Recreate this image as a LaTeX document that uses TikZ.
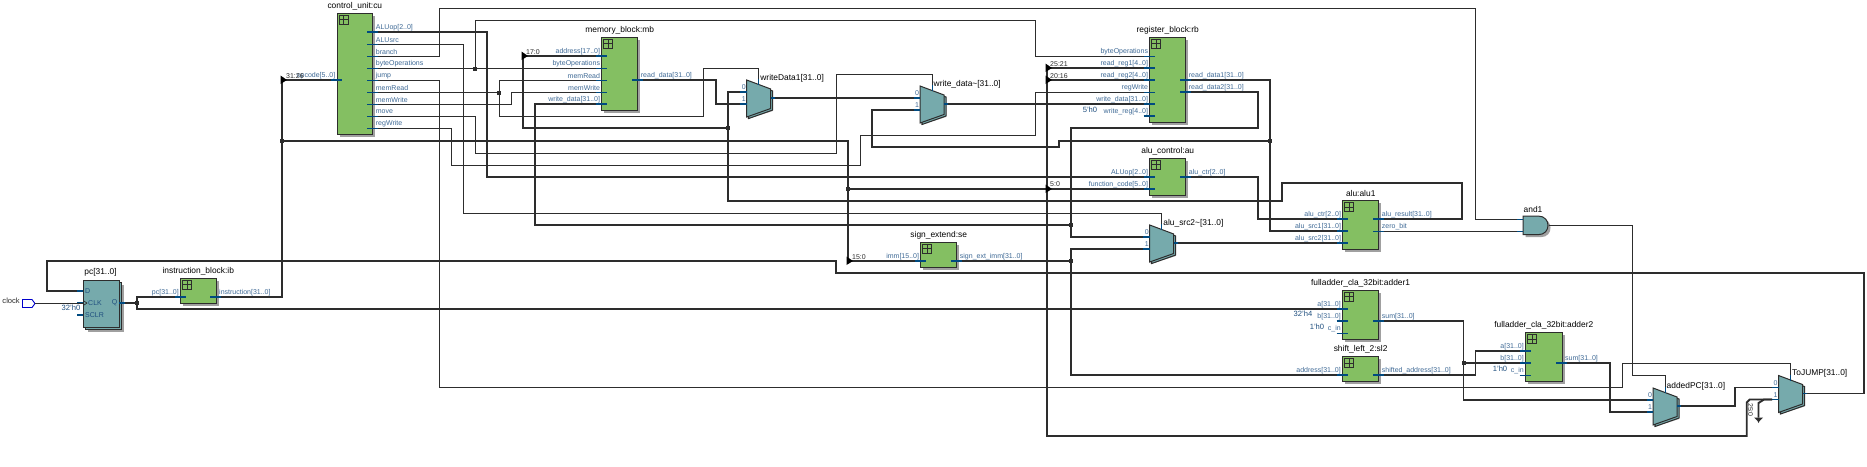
\documentclass[tikz,border=0pt]{standalone}
\usepackage{fontspec}
\setmainfont{Liberation Sans}
\definecolor{wirec}{HTML}{2D2D2D}
\definecolor{pinc}{HTML}{004A80}
\definecolor{blockg}{HTML}{84BF62}
\definecolor{muxt}{HTML}{76AAAC}
\definecolor{shad}{HTML}{A0A0A0}
\definecolor{labc}{HTML}{3F6A96}
\definecolor{constc}{HTML}{1F4F7F}
\tikzset{
  thinwire/.style={draw=wirec,line width=0.9pt,line join=miter},
  buswire/.style={draw=wirec,line width=1.9pt,line join=miter},
  thinpin/.style={draw=pinc,line width=0.9pt},
  buspin/.style={draw=pinc,line width=1.9pt},
  pinlab/.style={inner sep=0pt,text=labc,font=\fontsize{7}{8}\selectfont},
  instlab/.style={inner sep=0pt,text=black,font=\fontsize{8.4}{10}\selectfont},
  riplab/.style={inner sep=0pt,text=wirec,anchor=west,font=\fontsize{7}{8}\selectfont},
  constlab/.style={inner sep=0pt,text=constc,font=\fontsize{7.6}{9}\selectfont},
  blockbox/.style={draw=wirec,line width=1pt,fill=blockg,inner sep=0pt,outer sep=0pt,anchor=north west},
  tealbox/.style={draw=wirec,line width=1pt,fill=muxt,inner sep=0pt,outer sep=0pt,anchor=north west},
  shadowfill/.style={fill=shad,draw=none},
  iconline/.style={draw=wirec,line width=1pt},
  jdot/.style={fill=wirec,draw=none},
}
% block: name, x1, y1, x2, y2, label
\newcommand\blk[6]{%
  \fill[shadowfill] ({#2+2.5},{#3+2.5}) rectangle ({#4+2.5},{#5+2.5});
  \pgfmathsetmacro\bw{#4-#2}\pgfmathsetmacro\bh{#5-#3}
  \node[blockbox,minimum width=\bw pt,minimum height=\bh pt] (#1) at (#2,#3) {};
  \draw[iconline] ({#2+2},{#3+2}) rectangle ({#2+11},{#3+11});
  \draw[iconline] ({#2+6.5},{#3+2}) -- ({#2+6.5},{#3+11}) ({#2+2},{#3+6.5}) -- ({#2+11},{#3+6.5});
  \node[instlab] (#1lab) at ({(#2+#4)/2},{#3-7}) {#6};
}
% left pin: name, rect-left, y, text, style
\newcommand\lp[5]{%
  \coordinate (#1) at ({#2-6},#3);
  \draw[#5] (#1) -- ++(11,0);
  \node[pinlab,anchor=east] (#1t) at ({#2-1.5},{#3-4.5}) {#4};
}
% right pin: name, rect-right, y, text, style
\newcommand\rp[5]{%
  \coordinate (#1) at ({#2+5},#3);
  \draw[#5] (#1) -- ++(-11,0);
  \node[pinlab,anchor=west] (#1t) at ({#2+3},{#3-4.5}) {#4};
}
% mux: name, x, y, label
\newcommand\muxx[4]{%
  \fill[shadowfill] ({#2+1},{#3+5}) -- ({#2+26},{#3+12}) -- ({#2+26},{#3+31}) -- ({#2+1},{#3+39}) -- cycle;
  \filldraw[draw=wirec,fill=muxt,line width=1pt] ({#2+2},{#3+3}) -- ({#2+26},{#3+11}) -- ({#2+26},{#3+30}) -- ({#2+2},{#3+38.5}) -- cycle;
  \filldraw[draw=wirec,fill=muxt,line width=1pt] (#2,#3) -- ({#2+24},{#3+9}) -- ({#2+24},{#3+28.5}) -- (#2,{#3+37}) -- cycle;
  \coordinate (#1in0) at ({#2-6.5},{#3+12});
  \coordinate (#1in1) at ({#2-6.5},{#3+24});
  \coordinate (#1out) at ({#2+28},{#3+18});
  \coordinate (#1sel) at ({#2+12},{#3-1});
  \draw[buspin] (#1in0) -- ++(6.5,0);
  \draw[buspin] (#1in1) -- ++(6.5,0);
  \draw[buspin] (#1out) -- ++(-4,0);
  \draw[thinpin] (#1sel) -- ++(0,6);
  \node[pinlab,anchor=center] (#1t0) at ({#2-3},{#3+7.5}) {0};
  \node[pinlab,anchor=center] (#1t1) at ({#2-3},{#3+19.5}) {1};
  \node[instlab,anchor=west] (#1lab) at ({#2+13.5},{#3-2}) {#4};
}
\newcommand\jun[2]{\fill[jdot] ({#1-2},{#2-2}) rectangle ({#1+2},{#2+2});}
\newcommand\rip[2]{\fill[black] ({#1-1.5},{#2-4.5}) -- ({#1+5},{#2}) -- ({#1-1.5},{#2+4}) -- cycle;}
\begin{document}
\begin{tikzpicture}[x=1pt,y=-1pt]
\useasboundingbox (0,0) rectangle (1867,466);
\fill[white] (0,0) rectangle (1867,466);

% ---- clock
\node[anchor=east,inner sep=0pt,text=wirec,font=\fontsize{7.6}{9}\selectfont] (clklab) at (20,301) {clock};
\draw[draw=blue!80!black,line width=0.9pt] (22.5,299.5) -- (32,299.5) -- (35,303.5) -- (32,307.5) -- (22.5,307.5) -- cycle;
\coordinate (clkOut) at (35,303);

% ---- pc
\fill[shadowfill] (88,285) rectangle (124,332);
\filldraw[draw=wirec,fill=muxt,line width=1pt] (85.5,282.5) rectangle (121.5,329.5);
\node[tealbox,minimum width=36pt,minimum height=47pt] (pc) at (83,280) {};
\node[instlab] (pclab) at (100.5,272) {pc[31..0]};
\coordinate (pcD) at (77,291); \coordinate (pcCLK) at (84,303); \coordinate (pcS) at (77,315); \coordinate (pcQ) at (125,303);
\draw[buspin] (pcD) -- (83,291);
\draw[buspin] (77,303) -- (83,303);
\draw[buspin] (pcS) -- (83,315);
\draw[buspin] (119,303) -- (pcQ);
\draw[wirec,line width=0.7pt] (84,301) -- (87,303) -- (84,305);
\node[pinlab,anchor=west,text=constc] (pctD) at (85,291) {D};
\node[pinlab,anchor=west,text=constc] (pctC) at (88,303) {CLK};
\node[pinlab,anchor=west,text=constc] (pctS) at (85,315) {SCLR};
\node[pinlab,anchor=east,text=constc] (pctQ) at (117.5,303) {Q};
\node[constlab] (k0) at (71,308) {32'h0};

% ---- blocks
\blk{ib}{180.5}{278}{216}{303}{instruction\_block:ib}
\lp{ibPc}{180.5}{297}{pc[31..0]}{buspin}
\rp{ibOut}{216}{297}{instruction[31..0]}{buspin}

\blk{cu}{337}{13.3}{372.7}{134}{control\_unit:cu}
\lp{cuOp}{337}{80}{opcode[5..0]}{buspin}
\rp{cuALUop}{372.7}{32}{ALUop[2..0]}{buspin}
\rp{cuALUsrc}{372.7}{44.3}{ALUsrc}{thinpin}
\rp{cuBranch}{372.7}{56.3}{branch}{thinpin}
\rp{cuByte}{372.7}{68.5}{byteOperations}{thinpin}
\rp{cuJump}{372.7}{80.3}{jump}{thinpin}
\rp{cuMemR}{372.7}{92.5}{memRead}{thinpin}
\rp{cuMemW}{372.7}{104.5}{memWrite}{thinpin}
\rp{cuMove}{372.7}{116.5}{move}{thinpin}
\rp{cuReg}{372.7}{128.5}{regWrite}{thinpin}

\blk{mb}{601.7}{37.3}{637.7}{110}{memory\_block:mb}
\lp{mbAddr}{601.7}{56}{address[17..0]}{buspin}
\lp{mbByte}{601.7}{68.5}{byteOperations}{thinpin}
\lp{mbMemR}{601.7}{80.5}{memRead}{thinpin}
\lp{mbMemW}{601.7}{92.5}{memWrite}{thinpin}
\lp{mbWD}{601.7}{104}{write\_data[31..0]}{buspin}
\rp{mbOut}{637.7}{80}{read\_data[31..0]}{buspin}

\blk{rb}{1149.7}{37.3}{1185.7}{122.3}{register\_block:rb}
\lp{rbByte}{1149.7}{56.5}{byteOperations}{thinpin}
\lp{rbR1}{1149.7}{68}{read\_reg1[4..0]}{buspin}
\lp{rbR2}{1149.7}{80}{read\_reg2[4..0]}{buspin}
\lp{rbReg}{1149.7}{92.3}{regWrite}{thinpin}
\lp{rbWD}{1149.7}{104}{write\_data[31..0]}{buspin}
\lp{rbWR}{1149.7}{116}{write\_reg[4..0]}{buspin}
\rp{rbRD1}{1185.7}{80}{read\_data1[31..0]}{buspin}
\rp{rbRD2}{1185.7}{92}{read\_data2[31..0]}{buspin}

\blk{au}{1149.7}{158}{1185.7}{195}{alu\_control:au}
\lp{auOp}{1149.7}{177}{ALUop[2..0]}{buspin}
\lp{auFn}{1149.7}{189}{function\_code[5..0]}{buspin}
\rp{auOut}{1185.7}{177}{alu\_ctr[2..0]}{buspin}

\blk{se}{920.7}{242}{956.7}{267}{sign\_extend:se}
\lp{seImm}{920.7}{261}{imm[15..0]}{buspin}
\rp{seOut}{956.7}{261}{sign\_ext\_imm[31..0]}{buspin}

\blk{alu}{1342.7}{200.7}{1378.7}{249.3}{alu:alu1}
\lp{aluCtr}{1342.7}{219}{alu\_ctr[2..0]}{buspin}
\lp{aluS1}{1342.7}{231}{alu\_src1[31..0]}{buspin}
\lp{aluS2}{1342.7}{243}{alu\_src2[31..0]}{buspin}
\rp{aluRes}{1378.7}{219}{alu\_result[31..0]}{buspin}
\rp{aluZero}{1378.7}{231}{zero\_bit}{thinpin}

\blk{aone}{1342.5}{290}{1378.7}{339.3}{fulladder\_cla\_32bit:adder1}
\lp{aoneA}{1342.5}{309}{a[31..0]}{buspin}
\lp{aoneB}{1342.5}{321}{b[31..0]}{buspin}
\lp{aoneC}{1342.5}{333}{c\_in}{thinpin}
\rp{aoneS}{1378.7}{321}{sum[31..0]}{buspin}

\blk{sl}{1342.5}{356.7}{1378.7}{381.3}{shift\_left\_2:sl2}
\lp{slAddr}{1342.5}{375}{address[31..0]}{buspin}
\rp{slOut}{1378.7}{375}{shifted\_address[31..0]}{buspin}

\blk{atwo}{1525.5}{332.7}{1562}{381.3}{fulladder\_cla\_32bit:adder2}
\lp{atwoA}{1525.5}{350.7}{a[31..0]}{buspin}
\lp{atwoB}{1525.5}{362.7}{b[31..0]}{buspin}
\lp{atwoC}{1525.5}{375}{c\_in}{thinpin}
\rp{atwoS}{1562}{362.7}{sum[31..0]}{buspin}

% ---- muxes
\muxx{mone}{746.7}{80}{writeData1[31..0]}
\muxx{mtwo}{920}{86}{write\_data\textasciitilde[31..0]}
\muxx{mthr}{1149.7}{225}{alu\_src2\textasciitilde[31..0]}
\muxx{mfiv}{1653}{388}{addedPC[31..0]}
\muxx{mfou}{1778.5}{375.5}{ToJUMP[31..0]}

% ---- and gate
\fill[shadowfill] (1525.5,218.5) -- (1540.5,218.5) .. controls (1547.5,218.5) and (1550.5,223.5) .. (1550.5,227.8) .. controls (1550.5,232.5) and (1547.5,237.2) .. (1540.5,237.2) -- (1525.5,237.2) -- cycle;
\filldraw[draw=wirec,fill=muxt,line width=1pt] (1523,216) -- (1538,216) .. controls (1545,216) and (1548,221) .. (1548,225.3) .. controls (1548,230) and (1545,234.7) .. (1538,234.7) -- (1523,234.7) -- cycle;
\node[instlab] (andlab) at (1533,209) {and1};
\coordinate (andA) at (1517,219); \coordinate (andB) at (1517,231); \coordinate (andOut) at (1549,225.3);
\draw[thinpin] (andA) -- (1523,219);
\draw[thinpin] (andB) -- (1523,231);

% ---- constants
\node[constlab] (k1) at (1090,110) {5'h0};
\node[constlab] (k2) at (1303,314) {32'h4};
\node[constlab] (k3) at (1317,327) {1'h0};
\node[constlab] (k4) at (1500,369) {1'h0};

% ---- thin wires
\draw[thinwire] (clkOut) -- (pcCLK);
\draw[thinwire] (cuBranch) -- (439,56.3) -- (439,8.3) -- (1475,8.3) -- (1475,219) -- (andA);
\draw[thinwire] (cuJump) -- (439,80.3) -- (439,387) -- (1622.6,387) -- (1622.6,363.7) -- (1790.5,363.7) -- (mfousel);
\draw[thinwire] (cuALUsrc) -- (463,44.3) -- (463,213) -- (1161.7,213) -- (mthrsel);
\draw[thinwire] (cuByte) -- (mbByte);
\draw[thinwire] (475,68.5) -- (475,20) -- (1035.7,20) -- (1035.7,56.5) -- (rbByte);
\draw[thinwire] (cuMemR) -- (499,92.5) -- (499,80.5) -- (mbMemR);
\draw[thinwire] (499,92.5) -- (499,116.5) -- (703,116.5) -- (703,68.5) -- (758.7,68.5) -- (monesel);
\draw[thinwire] (cuMemW) -- (511,104.5) -- (511,92.5) -- (mbMemW);
\draw[thinwire] (cuMove) -- (475,116.5) -- (475,153.3) -- (836,153.3) -- (836,74) -- (932,74) -- (mtwosel);
\draw[thinwire] (cuReg) -- (451,128.5) -- (451,165) -- (860,165) -- (860,135) -- (1035.7,135) -- (1035.7,92.3) -- (rbReg);
\draw[thinwire] (aluZero) -- (andB);
\draw[thinwire] (andOut) -- (1632,225.3) -- (1632,375) -- (1665,375) -- (mfivsel);

% ---- bus wires
\draw[buswire] (pcQ) -- (137,303) -- (137,297) -- (ibPc);
\draw[buswire] (137,303) -- (137,309) -- (aoneA);
\draw[buswire] (ibOut) -- (282,297) -- (282,80) -- (cuOp);
\draw[buswire] (282,141) -- (848,141) -- (848,261) -- (seImm);
\draw[buswire] (848,189) -- (auFn);
\draw[buswire] (1047,68) -- (rbR1);
\draw[buswire] (1047,80) -- (rbR2);
\draw[buswire] (1047,68) -- (1047,436) -- (1746.7,436) -- (1746.7,402.5) -- (1749.7,399.5) -- (mfouin1);
\draw[buswire] (mfouin1) -- (1764,399.5) -- (1758.5,403) -- (1758.5,417.5);
\draw[buswire] (cuALUop) -- (487,32) -- (487,177) -- (auOp);
\draw[buswire] (auOut) -- (1258,177) -- (1258,219) -- (aluCtr);
\draw[buswire] (aluRes) -- (1462,219) -- (1462,183) -- (1282,183) -- (1282,201) -- (728,201) -- (728,92) -- (monein0);
\draw[buswire] (728,128) -- (523,128) -- (523,56) -- (mbAddr);
\draw[buswire] (mbOut) -- (716,80) -- (716,104) -- (monein1);
\draw[buswire] (moneout) -- (mtwoin0);
\draw[buswire] (mtwoout) -- (rbWD);
\draw[buswire] (rbRD1) -- (1270,80) -- (1270,231) -- (aluS1);
\draw[buswire] (1270,141) -- (1059,141) -- (1059,146.7) -- (872,146.7) -- (872,110) -- (mtwoin1);
\draw[buswire] (rbRD2) -- (1258,92) -- (1258,128) -- (1071,128) -- (1071,237) -- (mthrin0);
\draw[buswire] (1071,225) -- (535,225) -- (535,104) -- (mbWD);
\draw[buswire] (seOut) -- (1071,261) -- (1071,249) -- (mthrin1);
\draw[buswire] (1071,261) -- (1071,375) -- (slAddr);
\draw[buswire] (mthrout) -- (aluS2);
\draw[buswire] (mfouout) -- (1864,393.5) -- (1864,273) -- (836,273) -- (836,261) -- (47,261) -- (47,291) -- (pcD);
\draw[buswire] (aoneS) -- (1463.5,321) -- (1463.5,400) -- (mfivin0);
\draw[buswire] (1463.5,362.7) -- (atwoB);
\draw[buswire] (slOut) -- (1475.5,375) -- (1475.5,350.7) -- (atwoA);
\draw[buswire] (atwoS) -- (1610,362.7) -- (1610,412) -- (mfivin1);
\draw[buswire] (mfivout) -- (1735,406) -- (1735,387.5) -- (mfouin0);

% ---- ground
\fill[wirec] (1754,417.5) -- (1763,417.5) -- (1759.5,421) -- (1758.5,423) -- (1757.5,421) -- cycle;

% ---- junctions, rippers
\jun{137}{303}\jun{282}{141}\jun{475}{68.5}\jun{499}{92.5}\jun{728}{128}\jun{848}{189}
\jun{1071}{225}\jun{1071}{261}\jun{1270}{141}\jun{1463.5}{362.7}
\rip{282}{80}\rip{523}{56}\rip{1047}{68}\rip{1047}{80}\rip{1047}{189}\rip{848}{261}

\node[riplab] (r1) at (286,76.5) {31:26};
\node[riplab] (r2) at (526,52) {17:0};
\node[riplab] (r3) at (1050,64) {25:21};
\node[riplab] (r4) at (1050,76) {20:16};
\node[riplab] (r5) at (1050,184.5) {5:0};
\node[riplab] (r6) at (852,256.7) {15:0};
\node[riplab,anchor=center,rotate=-90] (r7) at (1750.5,410) {25:0};
\end{tikzpicture}
\end{document}
